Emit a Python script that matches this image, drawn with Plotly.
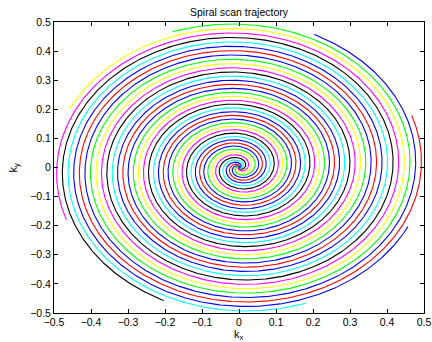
import numpy as np
import plotly.graph_objects as go

# ---- data ----
k_max = 0.5                      # outer radius of the trajectory
turns_per_interleave = 5         # turns of each interleave
density_exponent = 1.25          # variable density: denser near the centre
end_angles_deg = [21, 66, 111, 156, 201, 246, 291, 336]   # where each interleave ends
interleave_colors = ['#FF0000', '#0000FF', '#00FF00', '#FFFF00',
                     '#FF00FF', '#000000', '#00FFFF', '#0000FF']
tick_vals = [-0.5, -0.4, -0.3, -0.2, -0.1, 0, 0.1, 0.2, 0.3, 0.4, 0.5]
tick_text = ['\u22120.5', '\u22120.4', '\u22120.3', '\u22120.2', '\u22120.1', '0',
             '0.1', '0.2', '0.3', '0.4', '0.5']
title_text = 'Spiral scan trajectory'
x_label = 'k<sub>x</sub>'
y_label = 'k<sub>y</sub>'
n_samples = 4000

FONT = 'Liberation Sans, Arial, Helvetica, sans-serif'

fig = go.Figure()
s = np.linspace(0.0, 1.0, n_samples)
for ang, col in zip(end_angles_deg, interleave_colors):
    theta_end = np.deg2rad(ang)
    theta = theta_end - 2 * np.pi * turns_per_interleave * (1 - s)
    r = k_max * s ** density_exponent
    fig.add_trace(go.Scatter(x=r * np.cos(theta), y=r * np.sin(theta), mode='lines',
                             line=dict(color=col, width=1.1), hoverinfo='skip',
                             showlegend=False))

axis_common = dict(range=[-0.5, 0.5], tickvals=tick_vals, ticktext=tick_text,
                   ticks='inside', ticklen=4, tickcolor='black', tickwidth=1,
                   showline=True, linecolor='black', linewidth=1, mirror='ticks',
                   showgrid=False, zeroline=False, automargin=False,
                   tickfont=dict(family=FONT, size=10.5, color='black'))

fig.update_layout(
    width=432, height=342,
    margin=dict(l=54, r=8, t=22, b=29),
    paper_bgcolor='white', plot_bgcolor='white',
    title=dict(text=title_text, xref='paper', x=0.5, xanchor='center',
               yref='container', y=1 - 12.5 / 342, yanchor='middle',
               font=dict(family=FONT, size=10.5, color='black')),
    xaxis=dict(**axis_common, ticklabelstandoff=-1),
    yaxis=dict(**axis_common),
    annotations=[
        dict(text=x_label, xref='paper', yref='paper', x=0.5, y=0,
             xanchor='center', yanchor='top', yshift=-13, showarrow=False,
             font=dict(family=FONT, size=11, color='black')),
        dict(text=y_label, xref='paper', yref='paper', x=0, y=0.5,
             xanchor='center', yanchor='middle', xshift=-41, textangle=-90,
             showarrow=False, font=dict(family=FONT, size=11, color='black')),
    ],
)

fig.write_html('out.html', config={'displayModeBar': False, 'staticPlot': True},
               post_script="document.body.style.margin='0';")
